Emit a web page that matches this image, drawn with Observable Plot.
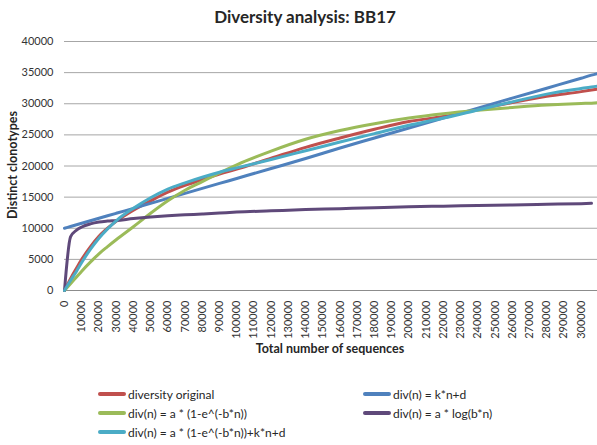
<!DOCTYPE html>
<html>
<head>
<meta charset="utf-8">
<script src="https://cdn.jsdelivr.net/npm/d3@7"></script>
<script src="https://cdn.jsdelivr.net/npm/@observablehq/plot@0.6"></script>
<style>
  body { margin: 0; background: #fff; font-family: Lato, "Open Sans", sans-serif; color: #262626; }
  #wrap { position: relative; width: 597px; height: 445px; overflow: hidden; }
  #title { position: absolute; top: 6px; left: 0; width: 610px; text-align: center; font-weight: bold; font-size: 17px; }
  #chart { position: absolute; top: 30px; left: 0; }
  .axis-title { position: absolute; font-weight: bold; font-size: 12.5px; white-space: nowrap; }
  #ytitle { left: 12px; top: 165px; transform: translate(-50%, -50%) rotate(-90deg); }
  #xtitle { left: 330px; top: 348px; transform: translate(-50%, -50%); }
  .lg { position: absolute; display: flex; align-items: center; font-size: 12px; white-space: nowrap; }
  .lg .sw { width: 28px; height: 4px; border-radius: 2px; margin-right: 2px; }
</style>
</head>
<body>
<div id="wrap">
  <div id="title">Diversity analysis: BB17</div>
  <div id="chart"></div>
  <div id="ytitle" class="axis-title">Distinct clonotypes</div>
  <div id="xtitle" class="axis-title">Total number of sequences</div>
</div>
<script>
// Number of sequences sampled (shared by every series)
const sequences = [0, 3500, 7000, 10000, 15000, 20000, 25000, 30000, 40000, 50000, 60000, 70000, 80000, 90000, 100000,
  120000, 140000, 160000, 180000, 200000, 220000, 240000, 260000, 280000, 300000, 306000, 309500];

// Distinct clonotypes: observed and the four fitted models
const diversityOriginal = [0, 1900, 3600, 5000, 7000, 8700, 10000, 11100, 12900, 14400, 15800, 16900, 17800, 18700, 19500,
  21250, 23000, 24500, 25900, 27150, 27950, 29100, 30200, 31200, 31950, 32200, 32350];
const linearFit = [10000, 10280, 10560, 10800, 11200, 11600, 12000, 12400, 13200, 14000, 14800, 15600, 16400, 17200, 18000,
  19600, 21200, 22900, 24500, 26100, 27700, 29300, 30900, 32500, 34100, 34600, 34850];
const expFit = [0, 1080, 2170, 3100, 4550, 5900, 7050, 8150, 10250, 12400, 14400, 16100, 17500, 18900, 20200,
  22400, 24300, 25700, 26800, 27700, 28400, 28950, 29400, 29800, 30050, 30100, 30150];
const logFit = [0, 8600, 9700, 10200, 10700, 11000, 11150, 11250, 11550, 11800, 12000, 12150, 12300, 12450, 12600,
  12800, 13000, 13150, 13300, 13450, 13550, 13650, 13750, 13850, 13950, 14000, null];
const expLinearFit = [0, 1600, 3100, 4500, 6600, 8400, 9900, 11200, 13200, 14900, 16300, 17300, 18200, 19000, 19700,
  21050, 22450, 23850, 25200, 26550, 27700, 29000, 30300, 31550, 32450, 32700, 32820];

const seriesNames = [
  "diversity original",
  "div(n) = k*n+d",
  "div(n) = a * (1-e^(-b*n))",
  "div(n) = a * log(b*n)",
  "div(n) = a * (1-e^(-b*n))+k*n+d"
];
const seriesValues = [diversityOriginal, linearFit, expFit, logFit, expLinearFit];
const seriesColors = ["#C0504D", "#4F81BD", "#9BBB59", "#5F497A", "#4BACC6"];

const xTicks = d3.range(0, 300001, 10000);
const yTicks = d3.range(0, 40001, 5000);

// Long-format rows for the line mark
const rows = seriesNames.flatMap((name, i) =>
  sequences.map((n, j) => ({name, n, v: seriesValues[i][j]}))
);

const chart = Plot.plot({
  width: 597,
  height: 330,
  marginLeft: 64,
  marginRight: 0,
  marginTop: 11,
  marginBottom: 70,
  style: {fontFamily: "Lato, 'Open Sans', sans-serif", fontSize: "11px", color: "#333", background: "transparent"},
  x: {domain: [0, 309500]},
  y: {domain: [0, 40000]},
  color: {domain: seriesNames, range: seriesColors},
  marks: [
    Plot.gridY(yTicks, {stroke: "#a6a6a6", strokeOpacity: 1, strokeWidth: 1}),
    Plot.ruleY([0], {stroke: "#8c8c8c"}),
    Plot.axisY(yTicks, {tickSize: 0, tickPadding: 11, tickFormat: d => String(d), label: null}),
    Plot.axisX(xTicks, {tickSize: 0, tickPadding: 10, tickRotate: -90, tickFormat: d => String(d), label: null}),
    Plot.line(rows, {x: "n", y: "v", z: "name", stroke: "name", strokeWidth: 3, curve: "monotone-x"})
  ]
});
document.getElementById("chart").appendChild(chart);

// Legend, laid out in two columns below the chart
const legendCols = [98, 363];
const legendRows = [394, 413, 432];
const wrap = document.getElementById("wrap");
seriesNames.forEach((name, i) => {
  const item = document.createElement("div");
  item.className = "lg";
  item.style.left = legendCols[i % 2] + "px";
  item.style.top = (legendRows[Math.floor(i / 2)] - 8) + "px";
  item.style.height = "16px";
  const sw = document.createElement("span");
  sw.className = "sw";
  sw.style.background = seriesColors[i];
  const label = document.createElement("span");
  label.textContent = name;
  item.appendChild(sw);
  item.appendChild(label);
  wrap.appendChild(item);
});
</script>
</body>
</html>
